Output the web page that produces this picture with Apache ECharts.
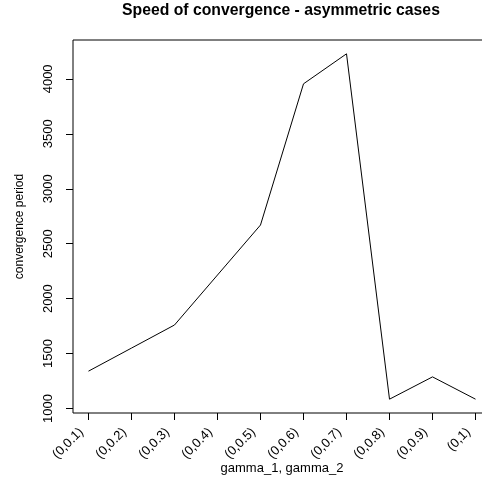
<!DOCTYPE html>
<html>
<head>
<meta charset="utf-8">
<script src="https://cdn.jsdelivr.net/npm/echarts@6/dist/echarts.min.js"></script>
<style>
html,body{margin:0;padding:0;background:#fff;}
#chart{width:482px;height:480px;}
</style>
</head>
<body>
<div id="chart"></div>
<script>
var categories = ["(0,0.1)","(0,0.2)","(0,0.3)","(0,0.4)","(0,0.5)","(0,0.6)","(0,0.7)","(0,0.8)","(0,0.9)","(0,1)"];
var convergencePeriod = [1340, 1550, 1760, 2215, 2670, 3955, 4228, 1085, 1288, 1085];
var yTicks = [1000, 1500, 2000, 2500, 3000, 3500, 4000];

var xPositions = categories.map(function(c, i){ return i + 1; });
var seriesData = convergencePeriod.map(function(v, i){ return [xPositions[i], v]; });

var vmin = Math.min.apply(null, convergencePeriod), vmax = Math.max.apply(null, convergencePeriod);
var pad = (vmax - vmin) * 0.04;
var xpad = (xPositions.length - 1) * 0.04;

var font = "Liberation Sans, Arial, sans-serif";
var chart = echarts.init(document.getElementById('chart'));
chart.setOption({
  animation: false,
  backgroundColor: '#ffffff',
  title: {
    text: 'Speed of convergence - asymmetric cases',
    left: 281, textAlign: 'center', top: 3, padding: 0,
    textStyle: {fontFamily: font, fontWeight: 'bold', fontSize: 15.75, color: '#000'}
  },
  grid: {left: 73, top: 40, width: 418, height: 373, outerBoundsMode: 'none', containLabel: false,
         show: true, borderColor: '#000', borderWidth: 1, backgroundColor: 'transparent'},
  xAxis: {
    type: 'value',
    min: 1 - xpad, max: xPositions.length + xpad,
    name: 'gamma_1, gamma_2', nameLocation: 'middle', nameGap: 49, nameMoveOverlap: false,
    nameTextStyle: {fontFamily: font, fontSize: 13, color: '#000', verticalAlign: 'top'},
    axisLine: {show: false},
    splitLine: {show: false},
    axisTick: {show: true, length: 7, customValues: xPositions, lineStyle: {color: '#000', width: 1}},
    axisLabel: {
      rotate: 45, margin: 10, fontFamily: font, fontSize: 13, color: '#000',
      padding: [0, 10, 6, 0],
      customValues: xPositions,
      formatter: function(v){ return categories[Math.round(v) - 1] || ''; }
    }
  },
  yAxis: {
    type: 'value',
    min: vmin - pad, max: vmax + pad,
    name: 'convergence period', nameLocation: 'middle', nameGap: 47, nameRotate: 90, nameMoveOverlap: false,
    nameTextStyle: {fontFamily: font, fontSize: 12, color: '#000'},
    axisLine: {show: false},
    splitLine: {show: false},
    axisTick: {show: true, length: 7, customValues: yTicks, lineStyle: {color: '#000', width: 1}},
    axisLabel: {
      rotate: 90, margin: 18, fontFamily: font, fontSize: 13, color: '#000',
      customValues: yTicks,
      formatter: function(v){ return String(v); }
    }
  },
  series: [{
    type: 'line',
    data: seriesData,
    showSymbol: false,
    symbol: 'none',
    lineStyle: {color: '#000', width: 1},
    clip: false
  }]
});
</script>
</body>
</html>
